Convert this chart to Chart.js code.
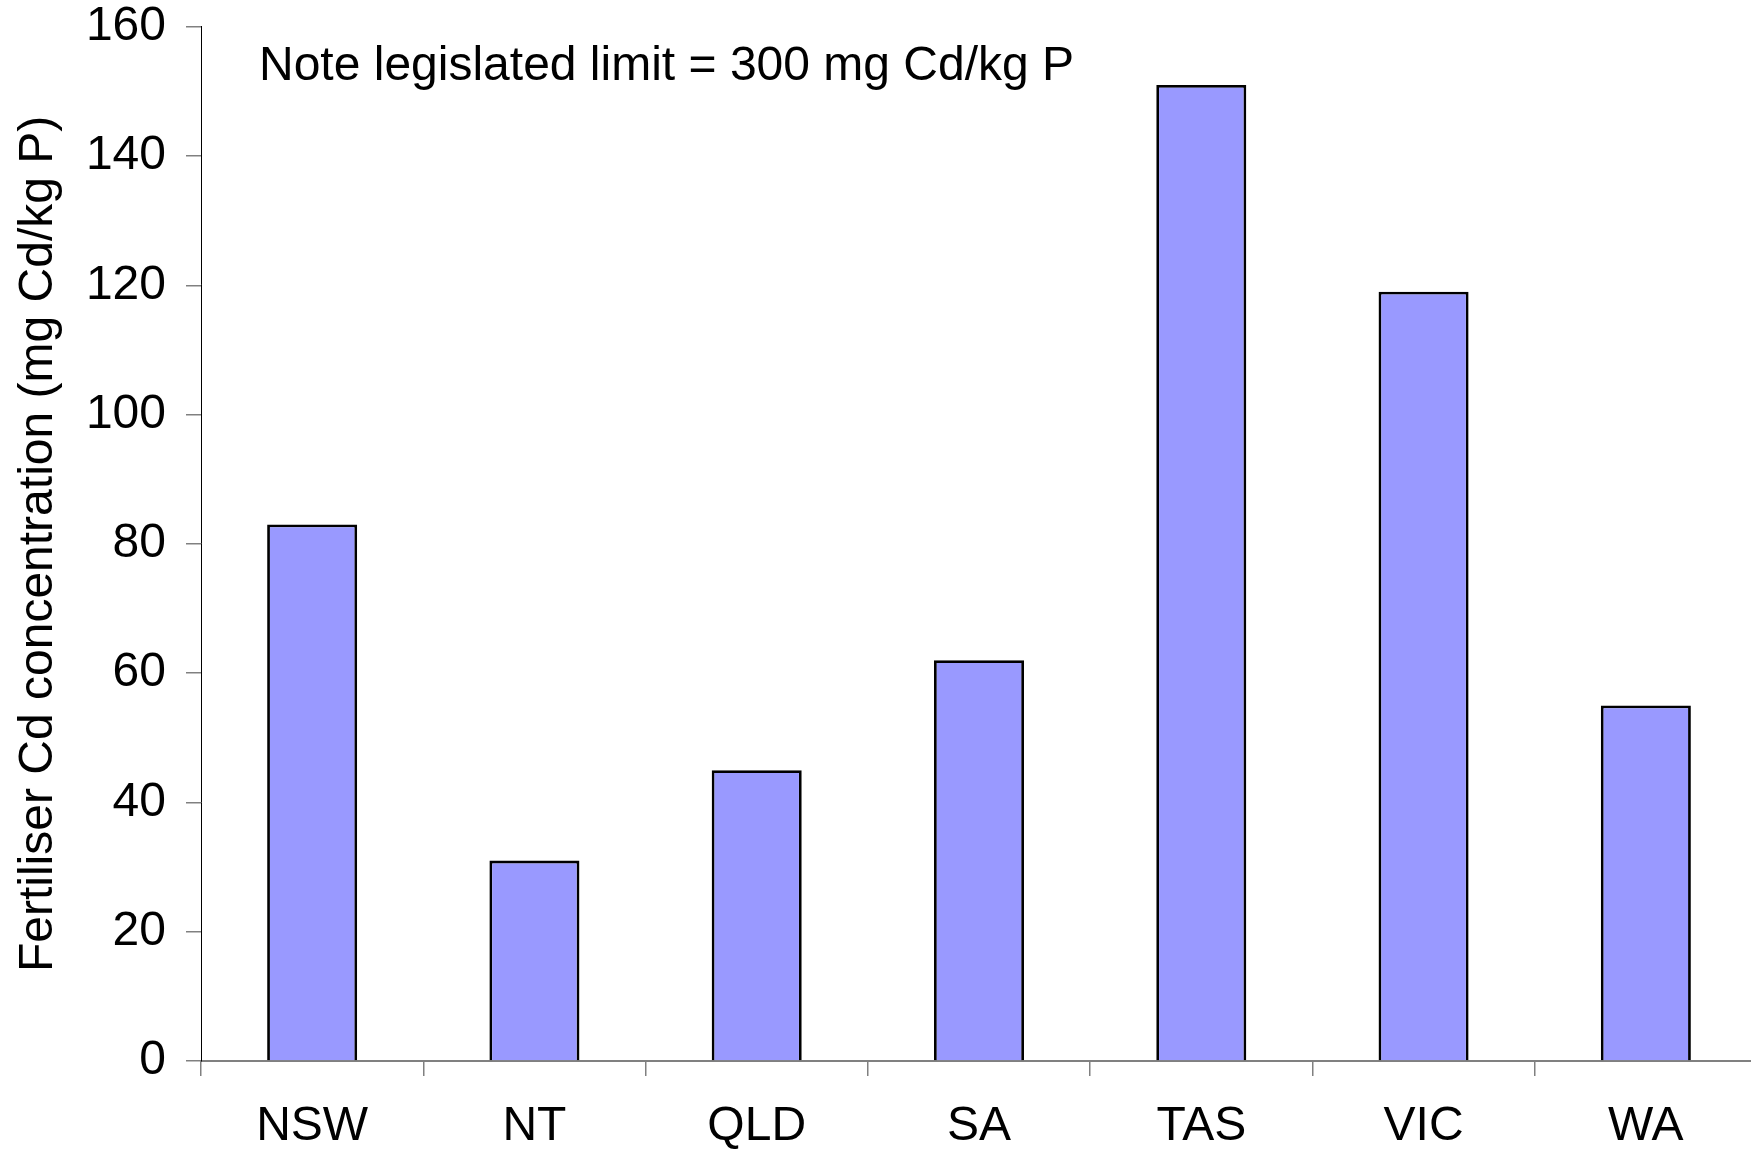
<!DOCTYPE html>
<html>
<head>
<meta charset="utf-8">
<script src="https://cdn.jsdelivr.net/npm/chart.js@4"></script>
<style>
  html, body { margin: 0; padding: 0; background: #fff; overflow: hidden; }
  #wrap { position: relative; width: 1751px; height: 1151px; overflow: hidden; }
  #chart { position: absolute; left: 0; top: -22px; }
</style>
</head>
<body>
<div id="wrap">
  <canvas id="chart" width="1757" height="1173"></canvas>
</div>
<script>
// data
const states = ['NSW', 'NT', 'QLD', 'SA', 'TAS', 'VIC', 'WA'];
const cdValues = [83, 31, 45, 62, 151, 119, 55];
const yTicks = [0, 20, 40, 60, 80, 100, 120, 140, 160];
const yTitle = 'Fertiliser Cd concentration (mg Cd/kg P)';
const noteText = 'Note legislated limit = 300 mg Cd/kg P';

const fontFamily = '"Liberation Sans", Arial, sans-serif';
const fontSize = 48;

// draws the note in the top left of the plot
const notePlugin = {
  id: 'note',
  afterDraw(chart) {
    const ctx = chart.ctx;
    const area = chart.chartArea;
    ctx.save();
    ctx.font = fontSize + 'px ' + fontFamily;
    ctx.fillStyle = '#000';
    ctx.textBaseline = 'alphabetic';
    ctx.fillText(noteText, area.left + 58, 80 + 22);
    ctx.restore();
  }
};

const ctx = document.getElementById('chart').getContext('2d');
new Chart(ctx, {
  type: 'bar',
  data: {
    labels: states,
    datasets: [{
      data: cdValues,
      backgroundColor: '#9999ff',
      borderColor: '#000',
      borderWidth: 2.8,
      barPercentage: 0.405,
      categoryPercentage: 1
    }]
  },
  options: {
    responsive: false,
    devicePixelRatio: 1,
    animation: false,
    layout: { padding: 0 },
    plugins: {
      legend: { display: false },
      tooltip: { enabled: false }
    },
    scales: {
      x: {
        grid: {
          offset: true,
          drawOnChartArea: false,
          drawTicks: true,
          tickLength: 15,
          color: '#808080',
          lineWidth: 1.5
        },
        border: { display: true, color: '#808080', width: 2 },
        ticks: {
          color: '#000',
          font: { family: fontFamily, size: fontSize },
          padding: 22,
          maxRotation: 0,
          autoSkip: false
        },
        afterFit(scale) { scale.height = 90; }
      },
      y: {
        min: 0,
        max: 160,
        afterBuildTicks(scale) {
          scale.ticks = yTicks.map(v => ({ value: v }));
        },
        grid: {
          drawOnChartArea: false,
          drawTicks: true,
          tickLength: 15,
          color: '#808080',
          lineWidth: 1.5
        },
        border: { display: true, color: '#000', width: 1 },
        ticks: {
          color: '#000',
          font: { family: fontFamily, size: fontSize },
          padding: 20
        },
        title: {
          display: true,
          text: yTitle,
          color: '#000',
          font: { family: fontFamily, size: fontSize },
          padding: { top: 10, bottom: 0 }
        },
        afterFit(scale) { scale.width = 201; }
      }
    }
  },
  plugins: [notePlugin]
});
</script>
</body>
</html>
